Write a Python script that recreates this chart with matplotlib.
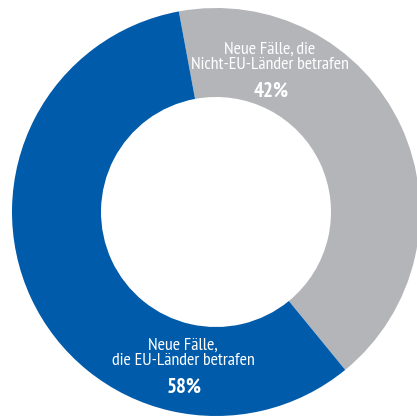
import matplotlib
matplotlib.use("Agg")
import matplotlib.pyplot as plt

labels = ["Neue Fälle, die\nNicht-EU-Länder betrafen", "Neue Fälle,\ndie EU-Länder betrafen"]
values = [42, 58]
pct_labels = ["42%", "58%"]
colors = ["#B4B5B9", "#005BAA"]

W, H = 417, 419
fig = plt.figure(figsize=(W / 100, H / 100), dpi=100)
cx, cy, R = 216, 212, 204
ax = fig.add_axes([(cx - R) / W, (H - cy - R) / H, 2 * R / W, 2 * R / H])
ax.pie(values, colors=colors, startangle=100.5, counterclock=False,
       radius=1.0, wedgeprops=dict(width=1 - 115 / 204, edgecolor="none"))
ax.set_xlim(-1, 1)
ax.set_ylim(-1, 1)
ax.set_aspect("auto")
ax.axis("off")

fam = ["PT Sans Narrow", "DejaVu Sans"]
def px(x, y):
    return (x - cx) / R, (cy - y) / R

pos_lab = [px(270, 57), px(183, 353)]
pos_pct = [px(271, 91), px(184, 387)]
for lab, pct, (lx, ly), (qx, qy) in zip(labels, pct_labels, pos_lab, pos_pct):
    ax.text(lx, ly, lab, ha="center", va="center", color="white", fontsize=12.9,
            family=fam, linespacing=0.95)
    ax.text(qx, qy, pct, ha="center", va="center", color="white", fontsize=15,
            family=fam, fontweight="bold")

fig.savefig("out.png", dpi=100)
